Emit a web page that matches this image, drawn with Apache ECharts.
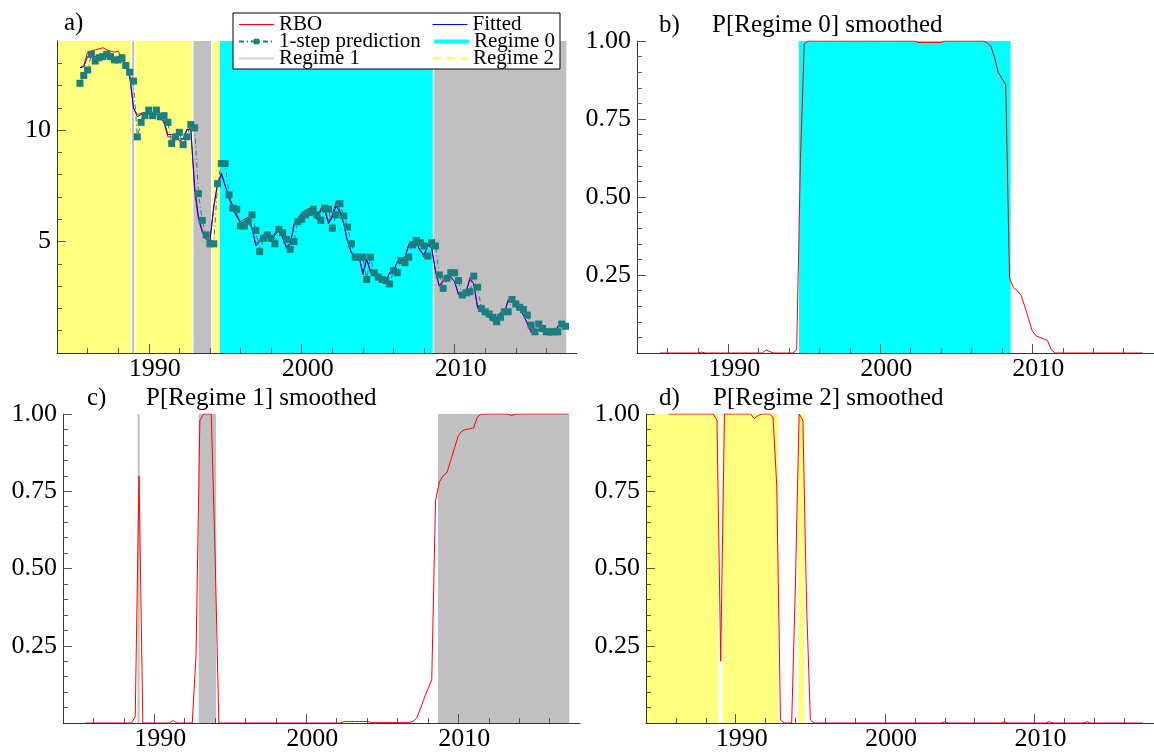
<!DOCTYPE html>
<html><head><meta charset="utf-8">
<script src="https://cdn.jsdelivr.net/npm/echarts@6/dist/echarts.min.js"></script>
<style>html,body{margin:0;padding:0;background:#fff}#c{width:1154px;height:752px}</style>
</head><body><div id="c"></div>
<script>
// quarterly observations, first one 1985 Q3
const startYear = 1985.5;
const rbo = [
12.8,12.9,13.5,13.55,13.6,13.65,13.7,13.6,13.55,13.5,
13.55,13.25,13.0,12.55,11.0,10.7,10.75,10.8,10.7,10.8,
10.7,10.6,10.3,9.7,9.7,9.85,9.5,9.6,10.0,10.1,
7.2,6.0,5.4,5.2,5.05,6.5,7.6,8.1,7.5,6.9,
6.5,6.1,5.9,6.0,6.1,5.6,4.9,5.1,5.3,5.2,
5.0,5.4,5.5,5.2,4.8,4.9,5.8,6.0,6.3,6.4,
6.5,6.3,6.0,6.5,6.5,5.9,6.2,6.8,6.4,5.8,
5.0,4.5,4.3,4.35,3.5,4.2,3.6,3.5,3.4,3.35,
3.25,3.6,3.7,4.1,4.1,4.3,4.9,5.0,4.9,4.6,
4.3,4.9,4.7,3.6,3.0,3.3,3.5,3.4,3.2,2.6,
2.7,2.75,3.4,3.1,2.0,1.85,1.75,1.6,1.4,1.6,
1.8,1.8,2.4,2.3,2.1,1.95,1.7,1.3,0.9,1.0,
1.0,0.95,0.85,0.8,0.85,1.2,1.2,1.2];
const fitted = [
12.8,12.85,13.3,13.3,13.3,13.35,13.4,13.35,13.3,13.2,
13.3,13.15,12.9,12.4,11.0,10.6,10.7,10.75,10.75,10.75,
10.7,10.6,10.4,9.8,9.8,9.8,9.6,9.6,10.05,10.0,
7.5,6.1,5.5,5.1,5.0,6.6,7.6,8.0,7.5,7.0,
6.6,6.2,5.8,5.9,6.0,5.6,4.8,5.0,5.3,5.2,
5.0,5.3,5.5,5.2,4.7,4.9,5.7,6.0,6.2,6.3,
6.4,6.3,6.0,6.4,6.4,5.8,6.1,6.6,6.3,5.8,
5.0,4.5,4.3,4.3,3.6,4.2,3.7,3.5,3.4,3.35,
3.2,3.6,3.65,4.1,4.1,4.3,4.8,5.0,4.9,4.6,
4.4,4.85,4.7,3.7,3.0,3.2,3.4,3.4,3.2,2.65,
2.7,2.75,3.3,3.1,2.05,1.85,1.75,1.6,1.45,1.6,
1.8,1.8,2.35,2.3,2.1,1.95,1.7,1.35,1.0,1.05,
1.05,1.0,0.9,0.9,0.9,1.2,1.2,1.2];
const prediction = [
12.1,12.45,12.7,13.4,13.1,13.25,13.3,13.4,13.3,13.15,
13.15,13.25,12.9,12.6,12.2,9.7,10.35,10.65,10.9,10.65,
10.9,10.6,10.65,10.35,9.4,9.7,9.9,9.35,9.7,10.25,
10.1,7.15,5.95,5.3,4.9,4.9,7.6,8.5,8.5,7.1,
6.5,6.45,5.7,5.7,5.9,6.2,5.5,4.55,5.15,5.3,
5.15,4.9,5.55,5.4,5.1,4.65,5.0,5.9,6.0,6.2,
6.3,6.45,6.2,5.95,6.5,6.45,5.6,6.2,6.7,6.15,
5.65,4.9,4.3,4.3,4.3,3.3,4.3,3.6,3.4,3.3,
3.25,3.1,3.7,3.6,4.15,4.05,4.3,4.85,5.05,4.95,
4.8,4.35,4.95,4.8,3.5,2.9,3.35,3.6,3.6,3.25,
2.6,2.7,2.75,3.45,2.95,2.0,1.85,1.75,1.6,1.4,
1.6,1.85,1.85,2.4,2.2,2.05,1.95,1.7,1.25,0.95,
1.3,1.1,0.95,0.95,0.95,0.95,1.3,1.2];
const pRegime0 = [
0,0,0,0,0,0,0,0,0,0,
0,0.003,0,0,0,0,0,0,0,0,
0,0,0,0,0,0,0,0,0.01,0.004,
0,0,0,0,0,0,0.01,0.62,0.99,1,
1,1,1,1,1,1,1,1,1,1,
1,1,1,1,1,1,1,1,1,1,
1,1,1,1,1,1,1,1,0.995,0.995,
0.995,0.995,0.995,0.995,0.995,1,1,1,1,1,
1,1,1,1,1,1,0.995,0.985,0.95,0.9,
0.88,0.86,0.24,0.21,0.2,0.185,0.15,0.11,0.07,0.055,
0.05,0.045,0.04,0.01,0,0,0,0,0,0,
0,0,0,0,0,0,0,0,0,0,
0,0,0,0,0,0,0,0];
const pRegime1 = [
0,0,0,0,0,0,0,0,0,0,
0,0,0,0.02,0.8,0,0,0,0,0,
0,0,0,0.008,0,0,0,0,0,0.22,
0.98,1,1,1,0.55,0,0,0,0,0,
0,0,0,0,0,0,0,0,0,0,
0,0,0,0,0,0,0,0,0,0,
0,0,0,0,0,0,0,0,0.005,0.005,
0.005,0.005,0.005,0.005,0.005,0.002,0.002,0.002,0.002,0.002,
0.002,0.002,0.002,0.002,0.002,0.002,0.005,0.015,0.045,0.08,
0.11,0.14,0.72,0.78,0.8,0.81,0.85,0.89,0.93,0.945,
0.95,0.952,0.955,0.99,1,1,1,1,1,1,
1,1,0.995,1,1,1,1,1,1,1,
1,1,1,1,1,1,1,1];
const pRegime2 = [
1,1,1,1,1,1,1,1,1,1,
1,1,1,0.98,0.2,1,1,1,1,1,
1,1,1,0.985,0.995,1,1,1,0.99,0.77,
0.01,0,0,0,0.45,1,0.98,0.38,0.01,0,
0,0,0,0,0,0,0,0,0,0,
0,0,0,0,0,0,0,0,0,0,
0,0,0,0,0,0,0,0,0,0,
0,0,0,0,0.004,0,0,0,0,0,
0,0,0,0,0,0,0,0,0,0,
0.004,0,0,0,0,0,0,0,0,0,
0,0,0.004,0,0,0,0,0,0,0,
0,0,0.004,0,0,0,0,0,0,0,
0,0,0,0,0,0,0,0];
// classified regime spans (years)
const regime0Spans = [[1994.65, 2008.57]];
const regime1Spans = [[1988.91, 1989.04], [1992.92, 1994.07], [2008.66, 2017.3]];
const regime2Spans = [[1984.0, 1988.84], [1989.12, 1992.84], [1994.18, 1994.61]];
// axis ticks
const xMinorTicks = [1986,1988,1992,1994,1996,1998,2002,2004,2006,2008,2012,2014,2016];
const xMajorTicks = [1990,2000,2010];
const xLabels = [1990,2000,2010];
const levelMinorTicks = [1,2,3,4,6,7,8,9,11,12,13];
const levelMajorTicks = [5,10];
const levelLabels = [5,10];
const probMinorTicks = [0.05,0.1,0.15,0.2,0.3,0.35,0.4,0.45,0.55,0.6,0.65,0.7,0.8,0.85,0.9,0.95];
const probMajorTicks = [0.25,0.5,0.75,1];
const probLabels = [0.25,0.5,0.75,1];

const FONT = '"Liberation Serif", "Times New Roman", Times, serif';
const C_CYAN = '#00ffff', C_GRAY = '#c0c0c0', C_YEL = '#ffff80';

const pts = vals => vals.map((v, i) => [startYear + i * 0.25, v]);
const spans = list => list.map(s => [{xAxis: s[0]}, {xAxis: s[1]}]);

const grids = [
  {left: 57, top: 41, width: 520, height: 312},
  {left: 637, top: 41, width: 519, height: 312},
  {left: 63, top: 414, width: 517, height: 313},
  {left: 646, top: 414, width: 519, height: 313}
];

const xAxis = [], yAxis = [];
grids.forEach((g, gi) => {
  xAxis.push({type: 'value', gridIndex: gi, min: 1984, max: 2018, position: 'bottom', z: 10,
    axisLine: {show: true, onZero: false, lineStyle: {color: '#333', width: 1}},
    axisTick: {show: true, inside: true, length: 5, customValues: xMinorTicks, lineStyle: {color: '#555'}},
    axisLabel: {show: true, customValues: xLabels, margin: 3, fontFamily: FONT, fontSize: 26, color: '#000',
      padding: [0,0,0,12], formatter: v => String(v)},
    splitLine: {show: false}});
  xAxis.push({type: 'value', gridIndex: gi, min: 1984, max: 2018, position: 'bottom', z: 10,
    axisLine: {show: false},
    axisTick: {show: true, inside: true, length: 9, customValues: xMajorTicks, lineStyle: {color: '#555'}},
    axisLabel: {show: false}, splitLine: {show: false}});
  const isLevel = gi === 0;
  yAxis.push({type: 'value', gridIndex: gi, min: 0, max: isLevel ? 14 : 1, position: 'left', z: 10,
    axisLine: {show: true, onZero: false, lineStyle: {color: '#333', width: 1}},
    axisTick: {show: true, inside: true, length: 5, customValues: isLevel ? levelMinorTicks : probMinorTicks, lineStyle: {color: '#555'}},
    axisLabel: {show: true, customValues: isLevel ? levelLabels : probLabels, margin: 6, fontFamily: FONT, fontSize: 26, color: '#000',
      formatter: v => isLevel ? String(v) : v.toFixed(2)},
    splitLine: {show: false}});
  yAxis.push({type: 'value', gridIndex: gi, min: 0, max: isLevel ? 14 : 1, position: 'left', z: 10,
    axisLine: {show: false},
    axisTick: {show: true, inside: true, length: 9, customValues: isLevel ? levelMajorTicks : probMajorTicks, lineStyle: {color: '#555'}},
    axisLabel: {show: false}, splitLine: {show: false}});
});

const ax = gi => ({xAxisIndex: 2 * gi, yAxisIndex: 2 * gi});
const regimeSeries = (name, color, areaColor, lineStyle, list) => Object.assign({
  name, type: 'line', data: [], symbol: 'none', z: 1, silent: true,
  lineStyle: Object.assign({color}, lineStyle), itemStyle: {color},
  markArea: {silent: true, itemStyle: {color: areaColor}, label: {show: false}, data: spans(list)}
}, ax(0));
const probSeries = (gi, vals, areaColor, list) => Object.assign({
  name: 'P' + gi, type: 'line', data: pts(vals), symbol: 'none', z: 3, silent: true,
  lineStyle: {color: '#ff0000', width: 1},
  markArea: {silent: true, itemStyle: {color: areaColor}, label: {show: false}, data: spans(list)}
}, ax(gi));

const titleStyle = {fontFamily: FONT, fontSize: 25, fontWeight: 'normal', color: '#000'};
const option = {
  animation: false,
  backgroundColor: '#fff',
  title: [
    {text: 'a)', left: 64, top: 11, textStyle: titleStyle, padding: 0},
    {text: 'b)', left: 659, top: 13, textStyle: titleStyle, padding: 0},
    {text: 'P[Regime 0] smoothed', left: 712, top: 13, textStyle: titleStyle, padding: 0},
    {text: 'c)', left: 87, top: 386, textStyle: titleStyle, padding: 0},
    {text: 'P[Regime 1] smoothed', left: 146, top: 386, textStyle: titleStyle, padding: 0},
    {text: 'd)', left: 659, top: 386, textStyle: titleStyle, padding: 0},
    {text: 'P[Regime 2] smoothed', left: 713, top: 386, textStyle: titleStyle, padding: 0}
  ],
  legend: {
    left: 233, top: 13, orient: 'horizontal', width: 330, itemGap: -4, itemWidth: 35, itemHeight: 7,
    padding: [1, 0, 0, 5], borderColor: '#000', borderWidth: 1, backgroundColor: '#fff', selectedMode: false, z: 20,
    itemStyle: {opacity: 0},
    textStyle: {fontFamily: FONT, fontSize: 21, color: '#000', width: 157, lineHeight: 17},
    data: [
      {name: 'RBO', lineStyle: {width: 1}}, {name: 'Fitted', lineStyle: {width: 1}, textStyle: {width: 86}},
      {name: '1-step prediction', itemStyle: {opacity: 1}},
      {name: 'Regime 0', lineStyle: {width: 4, color: C_CYAN}, textStyle: {width: 86}},
      {name: 'Regime 1', lineStyle: {width: 2, color: '#d3d3d3'}},
      {name: 'Regime 2', lineStyle: {width: 2, color: '#ffff40', type: [8, 6]}, textStyle: {width: 86}}
    ]
  },
  grid: grids,
  xAxis, yAxis,
  series: [
    regimeSeries('Regime 0', C_CYAN, C_CYAN, {width: 4}, regime0Spans),
    regimeSeries('Regime 1', '#d3d3d3', C_GRAY, {width: 2}, regime1Spans),
    regimeSeries('Regime 2', '#ffff40', C_YEL, {width: 2, type: [8, 6]}, regime2Spans),
    Object.assign({name: 'RBO', type: 'line', data: pts(rbo), symbol: 'none', z: 3,
      lineStyle: {color: '#ff0000', width: 1}, itemStyle: {color: '#ff0000'}}, ax(0)),
    Object.assign({name: 'Fitted', type: 'line', data: pts(fitted), symbol: 'none', z: 4,
      lineStyle: {color: '#0000ff', width: 1}, itemStyle: {color: '#0000ff'}}, ax(0)),
    Object.assign({name: '1-step prediction', type: 'line', data: pts(prediction), symbol: 'rect', symbolSize: 7, showSymbol: true, z: 5,
      lineStyle: {color: '#1a7f7f', width: 1, type: [5, 3, 1, 3]}, itemStyle: {color: '#1a7f7f'}}, ax(0)),
    probSeries(1, pRegime0, C_CYAN, regime0Spans),
    probSeries(2, pRegime1, C_GRAY, regime1Spans),
    probSeries(3, pRegime2, C_YEL, regime2Spans)
  ]
};
const chart = echarts.init(document.getElementById('c'), null, {renderer: 'canvas'});
chart.setOption(option);
</script></body></html>
